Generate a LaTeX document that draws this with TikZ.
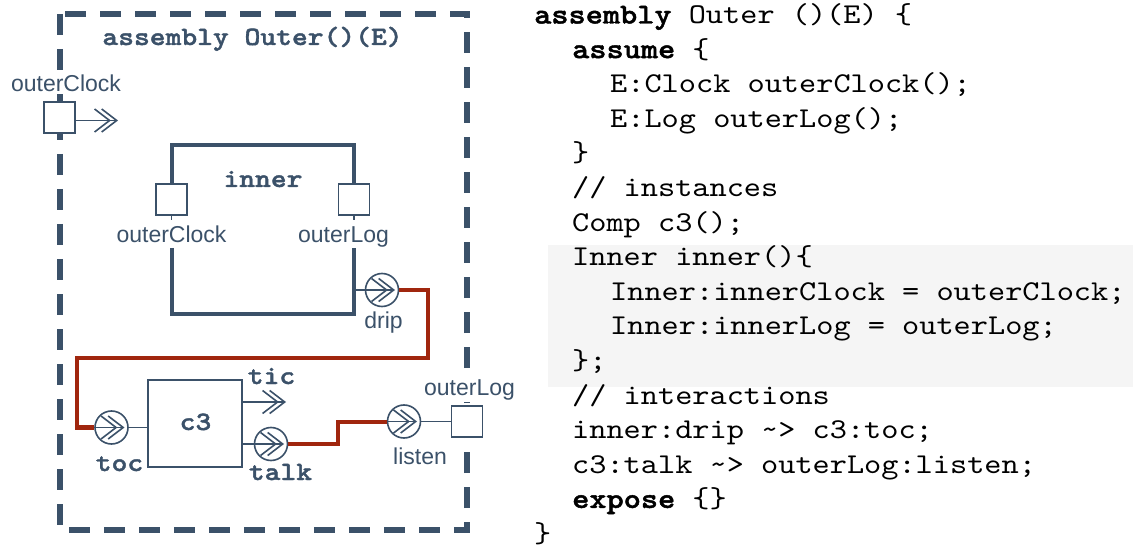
\documentclass[tikz,border=0pt]{standalone}
\usepackage{fontspec}
\setmainfont{Liberation Sans}
\newfontfamily\mono{lmmono10-regular}[Extension=.otf, BoldFont=lmmonolt10-bold, BoldFeatures={FakeBold=1.5}, FakeStretch=1.14]
\usetikzlibrary{arrows.meta}
\definecolor{slate}{HTML}{3B5169}
\definecolor{rust}{HTML}{A0260E}
\definecolor{codebg}{HTML}{F5F5F5}
\tikzset{
  lbl/.style={text=slate, font=\fontsize{23}{27}\selectfont, anchor=base, inner sep=2pt},
  blbl/.style={text=slate, font=\mono\bfseries\fontsize{26.4}{30}\selectfont, anchor=base, inner sep=0pt},
  port/.style={draw=slate, line width=1.3pt, fill=white, minimum size=31pt, inner sep=0pt},
  evt/.style={draw=slate, line width=1.6pt, fill=white, circle, minimum size=33pt, inner sep=0pt},
  thinln/.style={draw=slate, line width=1.6pt},
  chev/.style={-{Straight Barb[length=15pt,width=23pt,sep=-10pt]Straight Barb[length=15pt,width=23pt]}},
  wire/.style={draw=rust, line width=4.5pt},
  code/.style={font=\mono\fontsize{28.7}{34}\selectfont, anchor=base west, inner sep=0pt},
  frame/.style={draw=slate, line width=6pt, dash pattern=on 21pt off 14pt},
  compline/.style={draw=slate, line width=4pt},
}
\begin{document}
\begin{tikzpicture}[x=1pt,y=-1pt]
\useasboundingbox (0,0) rectangle (1133,548);
% code panel
\fill[codebg] (548,245) rectangle (1133,387);
\node[code] (c1) at (534,23.5) {{\bfseries assembly} Outer ()(E) \{};
\node[code] (c2) at (572,58.1) {{\bfseries assume} \{};
\node[code] (c3l) at (610,92.7) {E:Clock outerClock();};
\node[code] (c4) at (610,127.3) {E:Log outerLog();};
\node[code] (c5) at (572,161.9) {\}};
\node[code] (c6) at (572,196.5) {// instances};
\node[code] (c7) at (572,231.1) {Comp c3();};
\node[code] (c8) at (572,265.7) {Inner inner()\{};
\node[code] (c9) at (610,300.3) {Inner:innerClock = outerClock;};
\node[code] (c10) at (610,334.9) {Inner:innerLog = outerLog;};
\node[code] (c11) at (572,369.5) {\};};
\node[code] (c12) at (572,404.1) {// interactions};
\node[code] (c13) at (572,438.7) {inner:drip \textasciitilde> c3:toc;};
\node[code] (c14) at (572,473.3) {c3:talk \textasciitilde> outerLog:listen;};
\node[code] (c15) at (572,507.9) {{\bfseries expose} \{\}};
\node[code] (c16) at (534,542.5) {\}};
% outer frame
\draw[frame] (60,14) rectangle (467,530);
\node[blbl] (title) at (252.5,45) {assembly Outer()(E)};
% outerClock port
\node[lbl, fill=white] (lOC) at (66,92) {outerClock};
\node[port] (pOC) at (59.5,117.5) {};
\coordinate (ocEnd) at (118,120.5);
\draw[thinln, chev] (pOC.east |- ocEnd) -- (ocEnd);
% inner component
\node[port] (pIC) at (171.5,199.5) {};
\node[port] (pIL) at (354,199.5) {};
\node[lbl] (lIC) at (171.5,243) {outerClock};
\node[lbl] (lIL) at (343.5,243) {outerLog};
\node[blbl] (tInner) at (263,187) {inner};
\draw[compline] (pIC.north) -- (171.5,145) -- (354,145) -- (pIL.north);
\draw[compline] (171.5,248) -- (171.5,314) -- (354,314) -- (354,248);
\draw[thinln] (pIC.south) -- ++(0,4);
\draw[thinln] (pIL.south) -- ++(0,4);
\node[evt] (drip) at (382,290) {};
\coordinate (iR) at (354,290);
\draw[thinln, chev] (iR) -- ([xshift=13pt]drip.center);
\node[lbl] (lDrip) at (383.5,328) {drip};
% c3 component
\node[draw=slate, line width=1.3pt, minimum width=94pt, minimum height=87pt, inner sep=0pt] (c3) at (195,423.5) {};
\node[blbl] (tC3) at (195.5,430) {c3};
\node[evt] (toc) at (111.5,427.5) {};
\draw[thinln, chev] (toc.west) -- ([xshift=13pt]toc.center);
\draw[thinln] (toc.east) -- (c3.west |- toc.east);
\node[blbl] (lToc) at (119.5,471) {toc};
\coordinate (ticEnd) at (286,402);
\draw[thinln, chev] (c3.east |- ticEnd) -- (ticEnd);
\node[blbl] (lTic) at (271.5,384) {tic};
\node[evt] (talk) at (271,444) {};
\draw[thinln, chev] (c3.east |- talk.west) -- ([xshift=13pt]talk.center);
\node[blbl] (lTalk) at (280.5,480) {talk};
% outerLog port
\node[lbl, fill=white] (lOL) at (469.5,395) {outerLog};
\node[port] (pOL) at (467,421.5) {};
\node[evt] (listen) at (404,421.5) {};
\draw[thinln, chev] (listen.west) -- ([xshift=13pt]listen.center);
\draw[thinln] (listen.east) -- (pOL.west);
\node[lbl] (lListen) at (420,464) {listen};
% wires
\coordinate (r1) at (428,358);
\coordinate (r2) at (77,358);
\draw[wire] (drip.east) -| (r1) -- (r2) |- (toc.west);
\coordinate (m) at (338,432);
\draw[wire, line width=4pt] (talk.east) -| (m) |- (listen.west);
\end{tikzpicture}
\end{document}
